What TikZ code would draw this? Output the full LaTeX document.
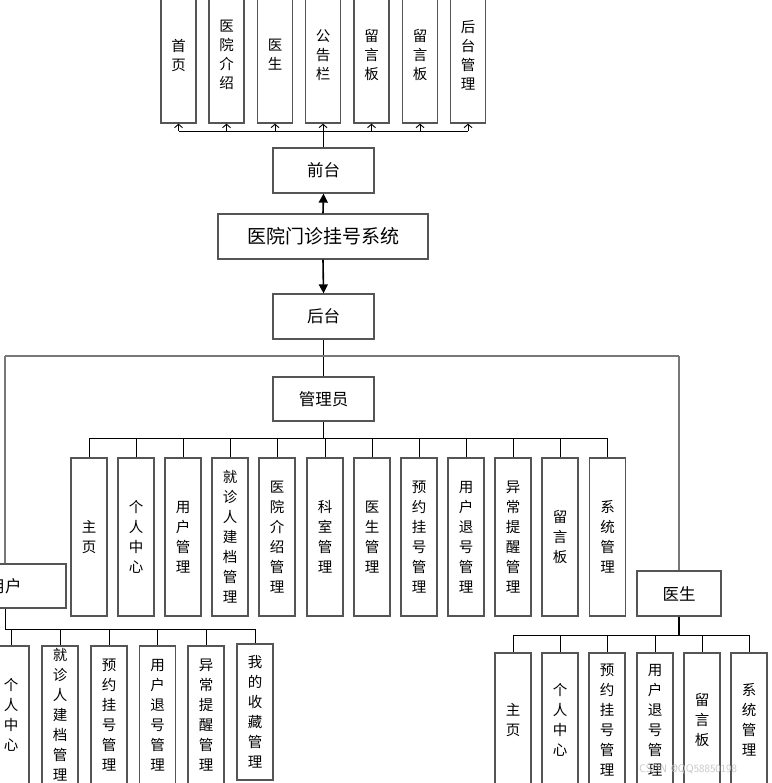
\documentclass[tikz,border=0pt]{standalone}
\usepackage{fontspec}
\newfontfamily\cjk{Noto Sans CJK SC}
\usetikzlibrary{arrows.meta}
\definecolor{boxc}{RGB}{85,85,85}
\definecolor{busg}{RGB}{120,120,120}
\tikzset{
  rolebox/.style={draw=boxc, line width=1.3pt, fill=white, inner sep=0pt, minimum height=45pt, font=\cjk\fontsize{16.5}{19}\selectfont},
  vbox/.style={draw=boxc, line width=1.3pt, fill=white, inner sep=0pt, minimum width=36pt, align=center, font=\cjk\fontsize{14.5}{20}\selectfont},
  tbox/.style={vbox, minimum width=35pt, minimum height=136pt, font=\cjk\fontsize{14.5}{19}\selectfont},
  abox/.style={vbox, minimum height=158pt},
  conn/.style={draw=black, line width=0.9pt},
  gconn/.style={draw=busg, line width=1.6pt},
  openarr/.style={conn, -{Straight Barb[length=3.5pt,width=8pt]}},
  bigarr/.style={draw=black, line width=1.6pt, -{Triangle[length=9pt,width=9pt]}},
  wm/.style={text=gray!45, font=\fontsize{11}{13}\selectfont\sffamily}
}
\begin{document}
\begin{tikzpicture}[x=1pt,y=-1pt]
\useasboundingbox (0,0) rectangle (771,783);
\clip (0,0) rectangle (771,783);
\fill[white] (0,0) rectangle (771,783);

% top row
\node[tbox] (t1) at (178.5,55) {首\\页};
\node[tbox] (t2) at (226.5,55) {医\\院\\介\\绍};
\node[tbox] (t3) at (275,55) {医\\生};
\node[tbox] (t4) at (323,55) {公\\告\\栏};
\node[tbox] (t5) at (371.5,55) {留\\言\\板};
\node[tbox] (t6) at (420,55) {留\\言\\板};
\node[tbox] (t7) at (468,55) {后\\台\\管\\理};

% main boxes
\node[rolebox, minimum width=101pt] (front) at (323.5,170.5) {前台};
\node[rolebox, minimum width=210pt, font=\cjk\fontsize{19}{22}\selectfont] (sys) at (323,236.5) {医院门诊挂号系统};
\node[rolebox, minimum width=101pt] (back) at (323.5,316.5) {后台};
\node[rolebox, minimum width=101pt, minimum height=44pt] (admin) at (323.5,399) {管理员};
\node[rolebox, minimum width=84pt] (doc) at (679,593.5) {医生};
\node[rolebox, minimum width=122pt, minimum height=44pt] (user) at (5,586) {用户};

% admin children
\node[abox] (a1) at (89,537) {主\\页};
\node[abox] (a2) at (136,537) {个\\人\\中\\心};
\node[abox] (a3) at (183,537) {用\\户\\管\\理};
\node[abox] (a4) at (230,537) {就\\诊\\人\\建\\档\\管\\理};
\node[abox] (a5) at (277,537) {医\\院\\介\\绍\\管\\理};
\node[abox] (a6) at (325,537) {科\\室\\管\\理};
\node[abox] (a7) at (372,537) {医\\生\\管\\理};
\node[abox] (a8) at (419,537) {预\\约\\挂\\号\\管\\理};
\node[abox] (a9) at (466,537) {用\\户\\退\\号\\管\\理};
\node[abox] (a10) at (513,537) {异\\常\\提\\醒\\管\\理};
\node[abox] (a11) at (560,537) {留\\言\\板};
\node[abox] (a12) at (607.5,537) {系\\统\\管\\理};

% user children
\node[vbox, minimum height=138pt] (u1) at (11,715) {个\\人\\中\\心};
\node[vbox, minimum height=138pt] (u2) at (60,715) {就\\诊\\人\\建\\档\\管\\理};
\node[vbox, minimum height=138pt] (u3) at (109,715) {预\\约\\挂\\号\\管\\理};
\node[vbox, minimum height=138pt] (u4) at (157.5,715) {用\\户\\退\\号\\管\\理};
\node[vbox, minimum height=138pt] (u5) at (206,715) {异\\常\\提\\醒\\管\\理};
\node[vbox, minimum height=136pt] (u6) at (255,712) {我\\的\\收\\藏\\管\\理};

% doctor children
\node[vbox, minimum height=134pt] (d1) at (513,720) {主\\页};
\node[vbox, minimum height=134pt] (d2) at (560,720) {个\\人\\中\\心};
\node[vbox, minimum height=134pt] (d3) at (607,720) {预\\约\\挂\\号\\管\\理};
\node[vbox, minimum height=134pt] (d4) at (655,720) {用\\户\\退\\号\\管\\理};
\node[vbox, minimum height=134pt] (d5) at (702,720) {留\\言\\板};
\node[vbox, minimum height=134pt] (d6) at (749,720) {系\\统\\管\\理};

% coordinates for buses
\coordinate (tbus) at (0,131);
\coordinate (mline) at (0,356);
\coordinate (abus) at (0,438);
\coordinate (ubus) at (0,629);
\coordinate (dbus) at (0,635);

% front -> top row
\draw[conn] (front.north) -- (front.north |- tbus);
\draw[conn] (t1.south |- tbus) -- (t7.south |- tbus);
\foreach \i in {1,...,7} {\draw[openarr] (t\i.south |- tbus) -- (t\i.south);}

% system arrows
\draw[bigarr] (sys.north) -- (front.south);
\draw[bigarr] (sys.south) -- (back.north);

% back -> roles
\draw[conn] (back.south) -- (admin.north);
\draw[gconn] (user.north |- mline) -- (doc.north |- mline);
\draw[gconn] (user.north |- mline) -- (user.north);
\draw[gconn] (doc.north |- mline) -- (doc.north);

% admin bus
\draw[conn] (admin.south) -- (admin.south |- abus);
\draw[conn] (a1.north |- abus) -- (a12.north |- abus);
\foreach \i in {1,...,12} {\draw[conn] (a\i.north |- abus) -- (a\i.north);}

% user bus
\draw[conn] (user.south) -- (user.south |- ubus);
\draw[conn] (user.south |- ubus) -- (u6.north |- ubus);
\foreach \i in {1,...,6} {\draw[conn] (u\i.north |- ubus) -- (u\i.north);}

% doctor bus
\draw[draw=black, line width=1.6pt] (doc.south) -- (doc.south |- dbus);
\draw[conn] (d1.north |- dbus) -- (d6.north |- dbus);
\foreach \i in {1,...,6} {\draw[conn] (d\i.north |- dbus) -- (d\i.north);}

% watermark
\node[wm, anchor=center] (wmk) at (688,769) {CSDN @QQ58850198};
\end{tikzpicture}
\end{document}
